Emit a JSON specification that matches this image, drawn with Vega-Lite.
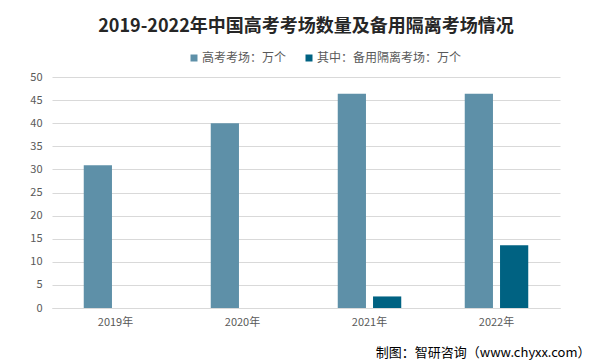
{
  "$schema": "https://vega.github.io/schema/vega-lite/v6.json",
  "width": 508,
  "height": 231,
  "autosize": {"type": "none"},
  "padding": {"left": 52, "top": 77, "right": 46, "bottom": 56},
  "background": "white",
  "title": {
    "text": "2019-2022年中国高考考场数量及备用隔离考场情况",
    "font": "Noto Sans CJK SC",
    "fontSize": 18,
    "fontWeight": "bold",
    "color": "#262626",
    "anchor": "middle",
    "offset": 16
  },
  "data": {
    "values": [
      {"year": "2019年", "series": "高考考场：万个", "value": 30.9},
      {"year": "2020年", "series": "高考考场：万个", "value": 40.0},
      {"year": "2021年", "series": "高考考场：万个", "value": 46.4},
      {"year": "2022年", "series": "高考考场：万个", "value": 46.4},
      {"year": "2021年", "series": "其中：备用隔离考场：万个", "value": 2.5},
      {"year": "2022年", "series": "其中：备用隔离考场：万个", "value": 13.6}
    ]
  },
  "mark": {"type": "bar"},
  "encoding": {
    "x": {
      "field": "year",
      "type": "nominal",
      "sort": null,
      "scale": {"paddingInner": 0.5, "paddingOuter": 0.25},
      "axis": {
        "title": "制图：智研咨询（www.chyxx.com）",
        "titleFont": "Noto Sans CJK SC",
        "titleFontSize": 13,
        "titleFontWeight": "normal",
        "titleColor": "#000000",
        "titleAnchor": "end",
        "titleAlign": "right",
        "titleBaseline": "middle",
        "titleX": 538,
        "titleY": 44,
        "labelAngle": 0,
        "labelFont": "Noto Sans CJK SC",
        "labelFontSize": 11,
        "labelColor": "#595959",
        "labelPadding": 8,
        "ticks": false,
        "domainColor": "#D9D9D9",
        "grid": false
      }
    },
    "xOffset": {
      "field": "series",
      "type": "nominal",
      "sort": ["高考考场：万个", "其中：备用隔离考场：万个"],
      "scale": {"paddingInner": 0.2, "paddingOuter": 0}
    },
    "y": {
      "field": "value",
      "type": "quantitative",
      "scale": {"domain": [0, 50]},
      "axis": {
        "title": null,
        "values": [0, 5, 10, 15, 20, 25, 30, 35, 40, 45, 50],
        "labelFont": "Noto Sans CJK SC",
        "labelFontSize": 11,
        "labelColor": "#595959",
        "labelPadding": 10,
        "ticks": false,
        "domain": false,
        "gridColor": "#D9D9D9"
      }
    },
    "color": {
      "field": "series",
      "type": "nominal",
      "sort": ["高考考场：万个", "其中：备用隔离考场：万个"],
      "scale": {"range": ["#5E90A8", "#006282"]},
      "legend": {
        "title": null,
        "orient": "none",
        "direction": "horizontal",
        "legendX": 136,
        "legendY": -25,
        "symbolType": "square",
        "symbolSize": 49,
        "symbolStrokeWidth": 0,
        "labelFont": "Noto Sans CJK SC",
        "labelFontSize": 12,
        "labelColor": "#595959",
        "labelOffset": 2,
        "columnPadding": 16
      }
    }
  },
  "config": {
    "view": {"stroke": null}
  }
}
